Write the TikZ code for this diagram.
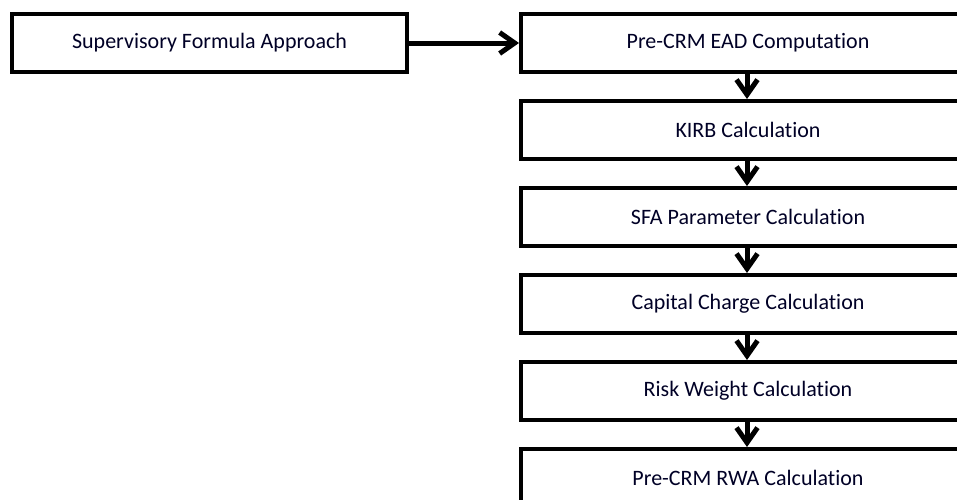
\documentclass[tikz,border=0pt]{standalone}
\usepackage{fontspec}
\setmainfont{Carlito}[RawFeature=-liga]
\usetikzlibrary{arrows.meta}
\begin{document}
\begin{tikzpicture}[x=1pt,y=-1pt,
  flowbox/.style={draw=black, line width=4pt, fill=white, minimum width=454pt, minimum height=58pt, inner sep=0pt, font=\fontsize{22}{26}\selectfont, text=black!85!blue, anchor=north west},
  conn/.style={line width=5pt, -{Straight Barb[length=15pt,width=21pt,line width=5pt]}}]
\useasboundingbox (0,0) rectangle (957,499);
\clip (0,0) rectangle (957,499);
\fill[white] (0,0) rectangle (957,499);
\node[flowbox, minimum width=395pt] (sfa) at (10,12) {Supervisory Formula Approach};
\node[flowbox] (ead) at (519,12) {Pre-CRM EAD Computation};
\node[flowbox] (kirb) at (519,99) {KIRB Calculation};
\node[flowbox] (par) at (519,186) {SFA Parameter Calculation};
\node[flowbox] (cap) at (519,273) {Capital Charge Calculation};
\node[flowbox] (rw) at (519,360) {Risk Weight Calculation};
\node[flowbox] (rwa) at (519,447) {Pre-CRM RWA Calculation};
\draw[conn] (sfa.east) -- (ead.west);
\draw[conn] ([xshift=-1pt]ead.south) -- ([xshift=-1pt]kirb.north);
\draw[conn] ([xshift=-1pt]kirb.south) -- ([xshift=-1pt]par.north);
\draw[conn] ([xshift=-1pt]par.south) -- ([xshift=-1pt]cap.north);
\draw[conn] ([xshift=-1pt]cap.south) -- ([xshift=-1pt]rw.north);
\draw[conn] ([xshift=-1pt]rw.south) -- ([xshift=-1pt]rwa.north);
\end{tikzpicture}
\end{document}
